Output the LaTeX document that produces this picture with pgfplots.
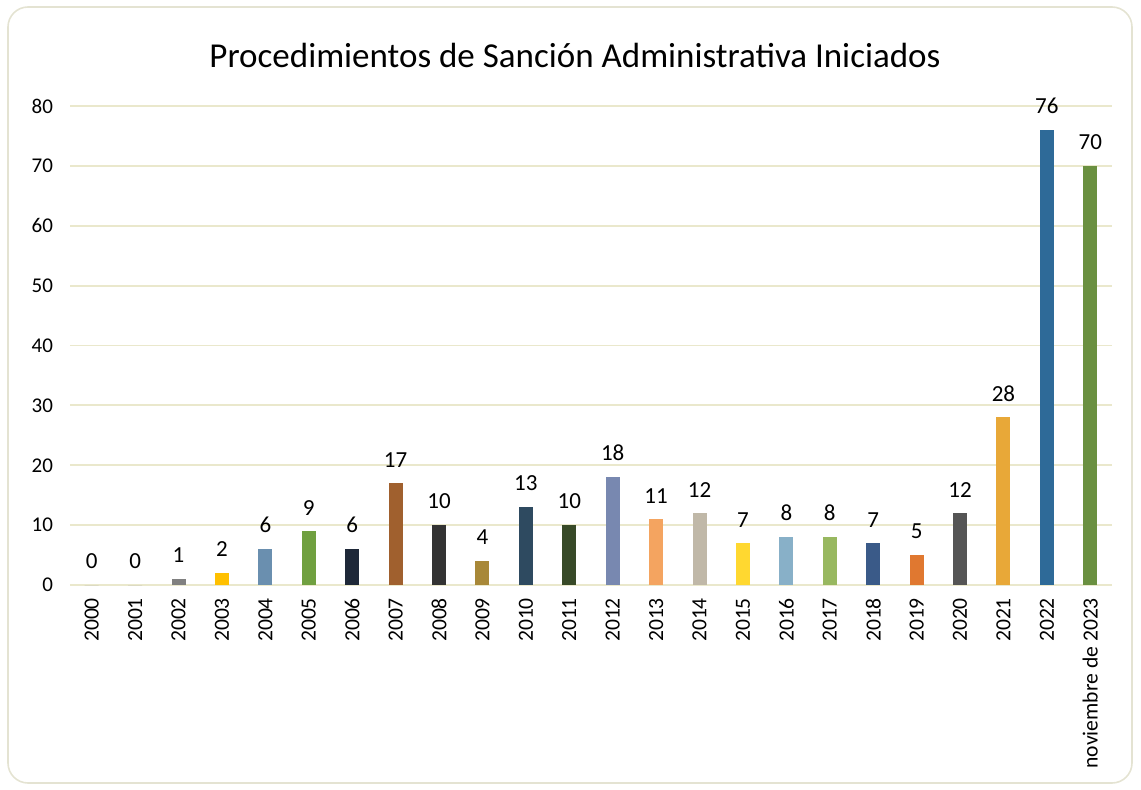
\documentclass[border=0pt]{standalone}
\usepackage{pgfplots}
\pgfplotsset{compat=1.18}
\usepackage{fontspec}
\setmainfont{Carlito}
\definecolor{gridc}{HTML}{EAE8CC}
\definecolor{framec}{HTML}{E4E3D2}
\begin{document}
\begin{tikzpicture}
\useasboundingbox (0,0) rectangle (570.5pt,394.5pt);
\draw[framec, line width=0.8pt, rounded corners=10pt] (4pt,3pt) rectangle (566pt,391pt);
\node[font=\fontsize{17.5}{20}\selectfont] at (287.5pt,367pt) {Procedimientos de Sanción Administrativa Iniciados};
\begin{axis}[
  at={(35pt,102pt)}, anchor=south west,
  scale only axis, width=521pt, height=239.5pt,
  xmin=-0.5, xmax=23.5, ymin=0, ymax=80,
  ytick={0,10,...,80},
  xtick={0,...,23},
  xticklabels={2000,2001,2002,2003,2004,2005,2006,2007,2008,2009,2010,2011,2012,2013,2014,2015,2016,2017,2018,2019,2020,2021,2022,noviembre de 2023},
  xticklabel style={rotate=90, anchor=east, font=\fontsize{10.8}{12}\selectfont},
  yticklabel style={font=\fontsize{10.5}{12}\selectfont},
  /pgf/number format/assume math mode=true,
  yticklabel shift=5pt,
  xticklabel shift=3pt,
  axis line style={draw=none},
  major tick length=0pt,
  ymajorgrids, major grid style={gridc, line width=0.9pt},
  ybar, bar width=7pt, bar shift=0pt,
  nodes near coords,
  every node near coord/.append style={font=\fontsize{11.5}{13}\selectfont, text=black, yshift=4.5pt},
  clip=false,
]
\addplot[draw=none, fill=gray] coordinates {(0,0)};
\addplot[draw=none, fill=gray] coordinates {(1,0)};
\addplot[draw=none, fill={rgb,255:red,128;green,128;blue,128}] coordinates {(2,1)};
\addplot[draw=none, fill={rgb,255:red,255;green,192;blue,0}] coordinates {(3,2)};
\addplot[draw=none, fill={rgb,255:red,106;green,143;blue,175}] coordinates {(4,6)};
\addplot[draw=none, fill={rgb,255:red,112;green,160;blue,64}] coordinates {(5,9)};
\addplot[draw=none, fill={rgb,255:red,30;green,40;blue,56}] coordinates {(6,6)};
\addplot[draw=none, fill={rgb,255:red,160;green,96;blue,46}] coordinates {(7,17)};
\addplot[draw=none, fill={rgb,255:red,51;green,51;blue,51}] coordinates {(8,10)};
\addplot[draw=none, fill={rgb,255:red,168;green,136;blue,56}] coordinates {(9,4)};
\addplot[draw=none, fill={rgb,255:red,46;green,74;blue,96}] coordinates {(10,13)};
\addplot[draw=none, fill={rgb,255:red,56;green,74;blue,40}] coordinates {(11,10)};
\addplot[draw=none, fill={rgb,255:red,120;green,136;blue,176}] coordinates {(12,18)};
\addplot[draw=none, fill={rgb,255:red,244;green,164;blue,96}] coordinates {(13,11)};
\addplot[draw=none, fill={rgb,255:red,192;green,184;blue,168}] coordinates {(14,12)};
\addplot[draw=none, fill={rgb,255:red,255;green,216;blue,48}] coordinates {(15,7)};
\addplot[draw=none, fill={rgb,255:red,136;green,176;blue,200}] coordinates {(16,8)};
\addplot[draw=none, fill={rgb,255:red,152;green,184;blue,96}] coordinates {(17,8)};
\addplot[draw=none, fill={rgb,255:red,58;green,90;blue,136}] coordinates {(18,7)};
\addplot[draw=none, fill={rgb,255:red,224;green,120;blue,48}] coordinates {(19,5)};
\addplot[draw=none, fill={rgb,255:red,85;green,85;blue,85}] coordinates {(20,12)};
\addplot[draw=none, fill={rgb,255:red,232;green,168;blue,56}] coordinates {(21,28)};
\addplot[draw=none, fill={rgb,255:red,46;green,106;blue,152}] coordinates {(22,76)};
\addplot[draw=none, fill={rgb,255:red,106;green,144;blue,64}] coordinates {(23,70)};
\end{axis}
\end{tikzpicture}
\end{document}
